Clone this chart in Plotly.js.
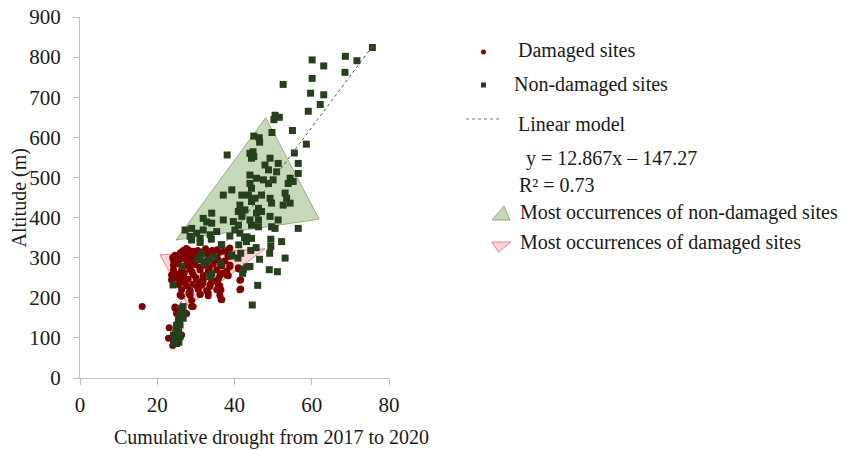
<!DOCTYPE html>
<html>
<head>
<meta charset="utf-8">
<script src="https://cdn.plot.ly/plotly-3.0.1.min.js"></script>
<style>html,body{margin:0;padding:0;background:#fff;}#chart{width:842px;height:450px;}</style>
</head>
<body>
<div id="chart"></div>
<script>
// ---------- data ----------
const damagedX = [16.1,26.3,24.6,25.0,26.7,28.9,27.6,23.1,22.9,24.0,26.3,28.5,31.1,26.1,
  41.6,41.6,41.0,36.5,36.5,38.4,38.8,38.4,38.8,33.2,31.8,33.6,35.9,34.8,28.2,30.2,
  26.7,28.0,29.3,30.5,31.8,34.2,35.5,36.8,38.3,
  24.6,27.2,28.5,35.5,38.3,
  24.2,25.9,27.6,28.9,32.8,34.1,35.8,37.5,
  24.2,25.5,28.0,29.8,32.4,34.5,36.7,38.8,
  24.2,26.3,28.5,31.1,33.2,35.4,38.0,41.0,
  23.7,25.0,26.7,29.3,31.9,34.1,36.2,38.0,
  23.7,25.9,28.0,30.2,31.9,34.1,35.8,41.4,
  25.5,27.6,29.3,31.5,33.7,36.2,
  26.3,28.5,30.6,32.8,35.4,41.4,
  25.9,28.5,31.1,33.2,36.2,
  28.9,36.7,24.6,29.3,
  27.0,30.0,33.0,26.0,29.5,31.0,27.0,33.5,37.0,25.0,30.0,32.5,27.5,36.0,24.0,29.0,34.0,30.5,27.0];
const damagedY = [178,204,174,161,157,178,161,125,99,81,107,212,209,106,
  245,222,275,220,197,255,278,303,324,212,236,228,230,241,212,232,
  318,320,316,318,315,318,320,316,319,
  306,308,305,307,306,
  294,296,292,295,293,296,294,292,
  282,284,280,283,281,284,280,282,
  270,268,271,269,268,270,267,272,
  257,259,255,258,256,259,255,257,
  245,243,246,242,245,243,246,244,
  233,230,234,231,233,230,
  220,218,221,218,220,220,
  207,206,208,205,206,
  194,195,177,178,
  300,302,310,312,288,276,262,275,262,250,250,322,323,313,300,265,290,225,238];

const nonDamagedX = [75.7,68.7,71.7,60.1,63.1,68.6,60.1,52.6,59.7,63.1,62.2,59.1,50.5,51.6,50.2,49.7,55.0,58.6,45.0,46.4,46.5,38.1,55.5,44.0,44.8,44.4,45.0,49.2,47.9,48.8,51.3,50.9,56.5,56.5,44.0,45.7,47.5,48.8,50.0,54.4,53.9,55.2,44.0,44.4,39.3,37.1,41.9,43.6,45.3,47.0,44.4,49.2,49.6,53.1,53.5,52.6,54.4,41.4,42.7,41.0,41.9,46.2,45.7,47.0,44.0,46.2,44.4,46.2,49.2,51.3,49.6,50.5,34.1,31.9,34.1,37.1,39.7,40.1,41.0,27.2,28.9,30.2,31.9,33.7,35.4,28.5,31.1,56.5,43.2,44.4,
  34.0,28.9,31.1,32.8,36.6,38.8,41.4,42.6,43.1,41.1,41.6,40.9,49.4,52.2,49.4,49.1,45.6,44.2,46.5,44.0,42.3,42.1,49.0,51.1,53.1,46.0,44.6,24.1,26.5,31.1,32.1,33.4,34.6,33.6,34.1,39.1,36.4,30.5,31.5,36.7,39.3,43.2,
  26.3,25.9,25.5,25.0,24.9,24.2,24.6,25.0,25.9,25.5,25.9,26.7,26.3,26.7,24.2,25.6,24.8,26.9];
const nonDamagedY = [824,802,791,793,778,762,747,732,710,706,682,665,655,650,644,612,617,583,603,599,588,556,561,560,564,548,552,548,531,519,535,514,535,510,506,498,494,485,494,498,485,490,485,473,469,456,456,456,448,456,440,448,436,461,448,431,436,431,419,415,403,423,411,415,394,394,381,377,403,394,377,373,411,398,386,394,390,369,381,369,373,361,369,357,365,353,348,373,352,348,
  346,344,338,389,332,354,361,350,340,332,311,299,346,340,328,311,325,318,296,278,271,261,270,265,299,231,182,232,278,303,286,294,303,253,260,304,286,295,310,332,307,277,
  174,157,145,132,120,107,95,86,103,115,132,149,165,178,87,89,112,160];

// linear model y = 12.867x - 147.27, drawn between these readings
const modelX = [25.0, 75.8];
const modelY = [174.4, 828.1];

// zones of most occurrences (triangle vertices)
const nonDamagedZoneX = [24.85, 48.1, 61.9, 24.85];
const nonDamagedZoneY = [344, 649, 396, 344];
const damagedZoneX = [20.7, 47.9, 28.0, 20.7];
const damagedZoneY = [307, 322, 180, 307];

const xTicks = [0, 20, 40, 60, 80];
const yTicks = [0, 100, 200, 300, 400, 500, 600, 700, 800, 900];

// ---------- layout helpers ----------
const W = 842, H = 450;
const M = {l: 80, r: 453, t: 17, b: 72};
const PW = W - M.l - M.r, PH = H - M.t - M.b;
const px = v => (v - M.l) / PW;
const py = v => (H - M.b - v) / PH;

const FONT = "'Liberation Serif', 'Times New Roman', Times, serif";
const TXT = '#1a1a1a';
const GREEN = '#263f1c';
const RED = '#800000';
const GFILL = 'rgba(160,190,138,0.6)';
const GLINE = '#93ad80';
const RFILL = 'rgba(248,185,185,0.6)';
const RLINE = '#e38585';

const traces = [
  {x: nonDamagedZoneX, y: nonDamagedZoneY, type: 'scatter', mode: 'lines', fill: 'toself',
   fillcolor: GFILL, line: {color: GLINE, width: 1}, hoverinfo: 'skip', showlegend: false},
  {x: damagedZoneX, y: damagedZoneY, type: 'scatter', mode: 'lines', fill: 'toself',
   fillcolor: RFILL, line: {color: RLINE, width: 1}, hoverinfo: 'skip', showlegend: false},
  {x: damagedX, y: damagedY, type: 'scatter', mode: 'markers', name: 'Damaged sites',
   marker: {symbol: 'circle', size: 7, color: RED, line: {width: 0}}, showlegend: false},
  {x: nonDamagedX, y: nonDamagedY, type: 'scatter', mode: 'markers', name: 'Non-damaged sites',
   marker: {symbol: 'square', size: 7, color: GREEN, line: {width: 0}}, showlegend: false},
  {x: modelX, y: modelY, type: 'scatter', mode: 'lines', name: 'Linear model',
   line: {color: '#555555', width: 1, dash: 'dot'}, showlegend: false}
];

function ann(text, x, y, extra) {
  return Object.assign({text: text, xref: 'paper', yref: 'paper', x: px(x), y: py(y),
    xanchor: 'left', yanchor: 'middle', showarrow: false,
    font: {family: FONT, size: 20, color: TXT}}, extra || {});
}

const annotations = [
  ann('Damaged sites', 516, 51),
  ann('Non-damaged sites', 512, 84),
  ann('Linear model', 516, 124),
  ann('y = 12.867x – 147.27', 524, 158),
  ann('R² = 0.73', 517, 185),
  ann('Most occurrences of non-damaged sites', 518, 213),
  ann('Most occurrences of damaged sites', 518, 242),
  ann('Cumulative drought from 2017 to 2020', 271.5, 437, {xanchor: 'center'}),
  ann('Altitude (m)', 18.5, 198, {xanchor: 'center', textangle: -90})
];

const shapes = [
  {type: 'circle', xref: 'paper', yref: 'paper', x0: px(481), x1: px(486), y0: py(54.5), y1: py(49.5),
   fillcolor: RED, line: {width: 0}},
  {type: 'rect', xref: 'paper', yref: 'paper', x0: px(481), x1: px(486), y0: py(87.5), y1: py(82.5),
   fillcolor: GREEN, line: {width: 0}},
  {type: 'line', xref: 'paper', yref: 'paper', x0: px(466), x1: px(502), y0: py(119), y1: py(119),
   line: {color: '#777777', width: 1, dash: 'dot'}},
  {type: 'path', xref: 'paper', yref: 'paper',
   path: `M ${px(492)} ${py(220)} L ${px(510)} ${py(220)} L ${px(504)} ${py(206)} Z`,
   fillcolor: GFILL, line: {color: GLINE, width: 1}},
  {type: 'path', xref: 'paper', yref: 'paper',
   path: `M ${px(492)} ${py(242)} L ${px(511)} ${py(242)} L ${px(498.5)} ${py(252)} Z`,
   fillcolor: RFILL, line: {color: RLINE, width: 1}}
];

const axisCommon = {
  showgrid: false, zeroline: false, showline: true, linecolor: '#bfbfbf', linewidth: 1,
  ticks: 'outside', ticklen: 6, tickcolor: '#bfbfbf', tickwidth: 1,
  tickfont: {family: FONT, size: 21, color: TXT}, fixedrange: true
};

const layout = {
  width: W, height: H,
  margin: M,
  paper_bgcolor: '#ffffff', plot_bgcolor: '#ffffff',
  showlegend: false,
  hovermode: false,
  font: {family: FONT, size: 20, color: TXT},
  xaxis: Object.assign({}, axisCommon, {range: [0, 80], tickvals: xTicks, ticktext: xTicks.map(String), ticklabelstandoff: 2}),
  yaxis: Object.assign({}, axisCommon, {range: [0, 900], tickvals: yTicks, ticktext: yTicks.map(String), ticklabelstandoff: 8}),
  annotations: annotations,
  shapes: shapes
};

Plotly.newPlot('chart', traces, layout, {displayModeBar: false, staticPlot: true});
</script>
</body>
</html>
